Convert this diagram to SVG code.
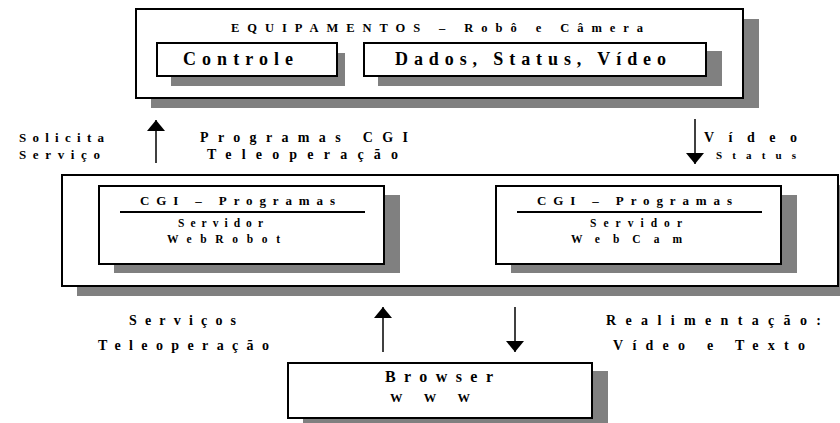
<svg xmlns="http://www.w3.org/2000/svg" width="840" height="423" viewBox="0 0 840 423">
<style>
.box{fill:#fff;stroke:#000;stroke-width:2}
.sh{fill:#808080}
text{font-family:"Liberation Serif","Times New Roman",serif;font-weight:bold;fill:#000}
.ln{stroke:#000;stroke-width:1.5;fill:none}
</style>
<defs>
<marker id="ah" markerUnits="userSpaceOnUse" markerWidth="12" markerHeight="18" viewBox="0 0 12 18" refX="11" refY="9" orient="auto">
<path d="M0,0 L11,9 L0,18 Z" fill="#000"/>
</marker>
</defs>
<rect width="840" height="423" fill="#fff"/>
<g id="equipamentos">
<rect class="sh" x="151" y="19" width="608" height="89"/>
<rect class="box" x="136" y="9" width="607" height="89"/>
<text x="231" y="32" font-size="12.5" textLength="412" lengthAdjust="spacing">EQUIPAMENTOS – Robô e Câmera</text>
</g>
<g id="controle">
<rect class="sh" x="171" y="53" width="174" height="33"/>
<rect class="box" x="157" y="43" width="180" height="33"/>
<text x="183" y="65" font-size="18" textLength="110" lengthAdjust="spacing">Controle</text>
</g>
<g id="dados">
<rect class="sh" x="378" y="51" width="344" height="35"/>
<rect class="box" x="364" y="43" width="342" height="33"/>
<text x="395" y="65" font-size="18" textLength="271" lengthAdjust="spacing">Dados, Status, Vídeo</text>
</g>
<g id="servidores">
<rect class="sh" x="77" y="185" width="770" height="111"/>
<rect class="box" x="62" y="175" width="776" height="111"/>
</g>
<g id="webrobot">
<rect class="sh" x="114" y="195" width="286" height="78"/>
<rect class="box" x="99" y="186" width="285" height="78"/>
<text x="140" y="205" font-size="13" textLength="195" lengthAdjust="spacing">CGI – Programas</text>
<line x1="120" y1="212" x2="365" y2="212" stroke="#000" stroke-width="2"/>
<text x="178" y="227" font-size="11.5" textLength="85" lengthAdjust="spacing">Servidor</text>
<text x="167" y="243" font-size="11.5" textLength="113" lengthAdjust="spacing">WebRobot</text>
</g>
<g id="webcam">
<rect class="sh" x="511" y="195" width="286" height="78"/>
<rect class="box" x="496" y="186" width="285" height="78"/>
<text x="537" y="205" font-size="13" textLength="195" lengthAdjust="spacing">CGI – Programas</text>
<line x1="517" y1="212" x2="762" y2="212" stroke="#000" stroke-width="2"/>
<text x="590" y="227" font-size="11.5" textLength="92" lengthAdjust="spacing">Servidor</text>
<text x="571" y="243" font-size="11.5" textLength="111" lengthAdjust="spacing">WebCam</text>
</g>
<g id="browser">
<rect class="sh" x="303" y="371" width="305" height="60"/>
<rect class="box" x="288" y="363" width="304" height="55"/>
<text x="385" y="382" font-size="16" textLength="108" lengthAdjust="spacing">Browser</text>
<text x="390" y="402" font-size="12.5" textLength="80" lengthAdjust="spacing">WWW</text>
</g>
<g id="connectors">
<line class="ln" x1="156" y1="163" x2="156" y2="120" marker-end="url(#ah)"/>
<line class="ln" x1="695" y1="119" x2="695" y2="164" marker-end="url(#ah)"/>
<line class="ln" x1="383" y1="352" x2="383" y2="307" marker-end="url(#ah)"/>
<line class="ln" x1="515" y1="307" x2="515" y2="352" marker-end="url(#ah)"/>
</g>
<g id="labels">
<text x="19" y="142" font-size="13" textLength="85" lengthAdjust="spacing">Solicita</text>
<text x="19" y="159" font-size="13" textLength="81" lengthAdjust="spacing">Serviço</text>
<text x="200" y="142" font-size="14" textLength="208" lengthAdjust="spacing">Programas CGI</text>
<text x="207" y="159" font-size="14" textLength="191" lengthAdjust="spacing">Teleoperação</text>
<text x="704" y="142" font-size="14" textLength="93" lengthAdjust="spacing">Vídeo</text>
<text x="716" y="159" font-size="11" textLength="80" lengthAdjust="spacing">Status</text>
<text x="129" y="325" font-size="14" textLength="107" lengthAdjust="spacing">Serviços</text>
<text x="98" y="350" font-size="14" textLength="171" lengthAdjust="spacing">Teleoperação</text>
<text x="606" y="325" font-size="14" textLength="215" lengthAdjust="spacing">Realimentação:</text>
<text x="613" y="350" font-size="14" textLength="192" lengthAdjust="spacing">Vídeo e Texto</text>
</g>
</svg>
